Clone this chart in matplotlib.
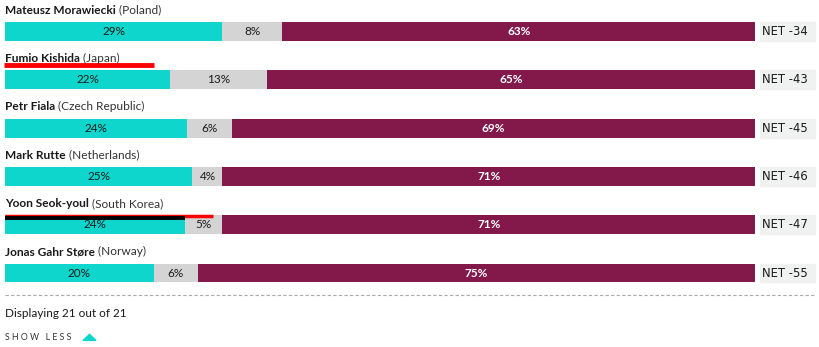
import matplotlib.pyplot as plt
from matplotlib.patches import Rectangle, Polygon

# approval ratings: approve / don't know / disapprove
leaders = ['Mateusz Morawiecki', 'Fumio Kishida', 'Petr Fiala', 'Mark Rutte',
           'Yoon Seok-youl', 'Jonas Gahr Støre']
countries = ['(Poland)', '(Japan)', '(Czech Republic)', '(Netherlands)',
             '(South Korea)', '(Norway)']
approve = [29, 22, 24, 25, 24, 20]
unsure = [8, 13, 6, 4, 5, 6]
disapprove = [63, 65, 69, 71, 71, 75]
net = [-34, -43, -45, -46, -47, -55]

TEAL = '#0fd6cc'
GREY = '#d4d4d4'
MAROON = '#83194b'
TXT = '#1a1a1a'

plt.rcParams['font.family'] = ['Lato', 'DejaVu Sans']

fig = plt.figure(figsize=(8.2, 3.47), dpi=100)
# bar area spans 5..755 px horizontally, rows are 48.4 px apart
ax = fig.add_axes([5 / 820, 0, 750 / 820, 1])
ax.set_xlim(0, 100)
ax.set_ylim(6.532, -0.652)
ax.axis('off')

# rounded shares don't always add to 100, so scale each row to full width
tot = [a + u + d for a, u, d in zip(approve, unsure, disapprove)]
a_w = [a / t * 100 for a, t in zip(approve, tot)]
u_w = [u / t * 100 for u, t in zip(unsure, tot)]
d_w = [d / t * 100 for d, t in zip(disapprove, tot)]
u_left = a_w
d_left = [a + u for a, u in zip(a_w, u_w)]

rows = list(range(len(leaders)))
h = 0.39
ax.barh(rows, a_w, height=h, color=TEAL)
ax.barh(rows, u_w, left=u_left, height=h, color=GREY)
ax.barh(rows, d_w, left=d_left, height=h, color=MAROON)

for i in rows:
    ax.text(a_w[i] / 2, i, f'{approve[i]}%', ha='center', va='center',
            fontsize=8.5, color=TXT)
    ax.text(u_left[i] + u_w[i] / 2, i, f'{unsure[i]}%', ha='center',
            va='center', fontsize=8.5, color=TXT)
    ax.text(d_left[i] + d_w[i] / 2, i, f'{disapprove[i]}%', ha='center',
            va='center', fontsize=8.5, color='white', fontweight='bold')

    # name + country label
    t = ax.text(0, i - 0.44, leaders[i], ha='left', va='center', fontsize=8.6,
                color=TXT, fontweight='bold')
    ax.annotate(' ' + countries[i], xy=(1, 0.5), xycoords=t, ha='left',
                va='center', fontsize=8.6, color='#333333')

    # net box
    ax.add_patch(Rectangle((100.67, i - h / 2), 7.33, h, color='#f0f2f2',
                           clip_on=False))
    ax.text(101.0, i, f'NET {net[i]}', ha='left', va='center', fontsize=8.4,
            color=TXT, family='DejaVu Sans', clip_on=False)

# highlight marks
ax.plot([-0.1, 19.8], [0.69, 0.69], color='red', lw=3.5,
        solid_capstyle='butt', clip_on=False)
ax.plot([0, 27.8], [3.81, 3.81], color='red', lw=2.5, solid_capstyle='butt')
ax.plot([0, a_w[4]], [3.855, 3.855], color='black', lw=2.8,
        solid_capstyle='butt')

# footer
ax.plot([0, 108.0], [5.455, 5.455], color='#aaaaaa', lw=0.8, ls=(0, (3, 2)),
        clip_on=False)
ax.text(0, 5.83, 'Displaying 21 out of 21', ha='left', va='center',
        fontsize=8.5, color=TXT)
ax.text(0, 6.325, 'S H O W   L E S S', ha='left', va='center', fontsize=6.3,
        color='#333333')
ax.add_patch(Polygon([[10.4, 6.395], [11.27, 6.27], [12.13, 6.395]],
                     closed=True, color=TEAL, clip_on=False))

fig.savefig('out.png', dpi=100)
